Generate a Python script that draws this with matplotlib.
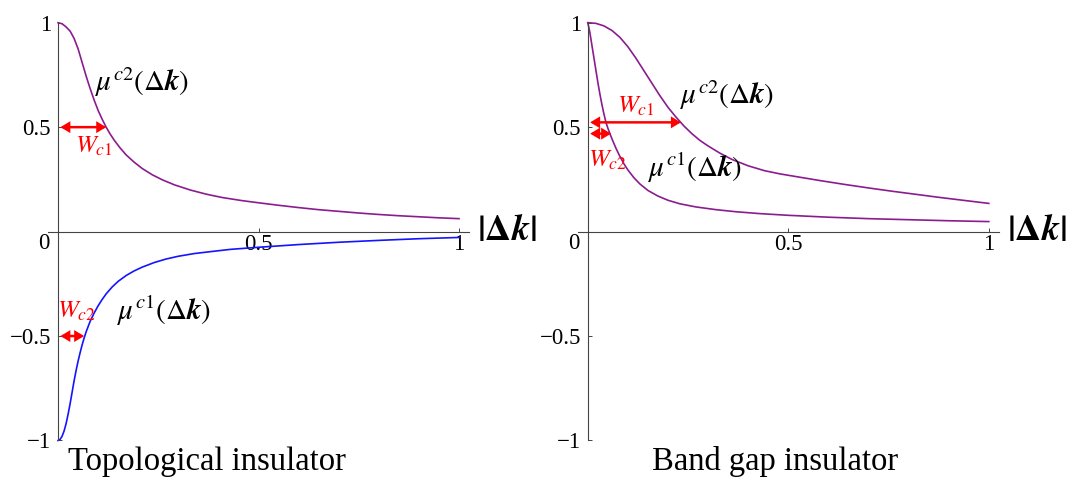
import numpy as np
import matplotlib
matplotlib.use("Agg")
import matplotlib.pyplot as plt

plt.rcParams['mathtext.fontset'] = 'stix'
plt.rcParams['font.family'] = ['Liberation Serif', 'DejaVu Serif']

# ---- topological insulator: mu^c2 (purple) and mu^c1 (blue)
topo_mu2_x = [0, 0.01, 0.02, 0.03, 0.04, 0.05, 0.06, 0.07, 0.08, 0.09, 0.10,
              0.11, 0.12, 0.13, 0.14, 0.155, 0.17, 0.19, 0.21, 0.235, 0.26,
              0.29, 0.33, 0.37, 0.41, 0.46, 0.5, 0.55, 0.6, 0.65, 0.7, 0.75,
              0.8, 0.85, 0.9, 0.95, 1.0]
topo_mu2_y = [1, 0.995, 0.98, 0.96, 0.925, 0.875, 0.81, 0.745, 0.685, 0.63, 0.58,
              0.538, 0.50, 0.467, 0.438, 0.40, 0.367, 0.332, 0.302, 0.272, 0.248,
              0.224, 0.199, 0.179, 0.163, 0.148, 0.138, 0.126, 0.115, 0.105, 0.097, 0.089,
              0.082, 0.076, 0.071, 0.066, 0.062]

topo_mu1_x = [0, 0.005, 0.01, 0.015, 0.02, 0.025, 0.03, 0.035, 0.04, 0.045, 0.05,
              0.055, 0.06, 0.065, 0.07, 0.08, 0.09, 0.1, 0.11, 0.12, 0.135, 0.15,
              0.17, 0.19, 0.21, 0.24, 0.27, 0.3, 0.34, 0.38, 0.43, 0.5, 0.6, 0.7,
              0.8, 0.9, 1.0]
topo_mu1_y = [-1, -0.995, -0.98, -0.955, -0.92, -0.875, -0.825, -0.77, -0.715, -0.665, -0.62,
              -0.58, -0.543, -0.51, -0.48, -0.43, -0.39, -0.355, -0.325, -0.298, -0.265, -0.238,
              -0.21, -0.188, -0.17, -0.148, -0.131, -0.118, -0.105, -0.096, -0.085, -0.075, -0.062, -0.051,
              -0.042, -0.034, -0.028]

# ---- band gap insulator: both curves positive
band_mu2_x = [0, 0.02, 0.04, 0.06, 0.08, 0.10, 0.12, 0.14, 0.16, 0.18, 0.20,
              0.22, 0.24, 0.26, 0.28, 0.30, 0.33, 0.36, 0.40, 0.44, 0.48, 0.53,
              0.58, 0.64, 0.7, 0.76, 0.82, 0.88, 0.94, 1.0]
band_mu2_y = [1, 0.997, 0.985, 0.963, 0.93, 0.885, 0.83, 0.77, 0.71, 0.65, 0.595,
              0.548, 0.505, 0.468, 0.436, 0.41, 0.375, 0.345, 0.315, 0.292, 0.276, 0.26,
              0.244, 0.226, 0.209, 0.193, 0.178, 0.163, 0.149, 0.135]

band_mu1_x = [0, 0.005, 0.01, 0.015, 0.02, 0.025, 0.03, 0.035, 0.04, 0.045, 0.05,
              0.055, 0.06, 0.07, 0.08, 0.09, 0.1, 0.115, 0.13, 0.15, 0.175, 0.2,
              0.23, 0.27, 0.32, 0.37, 0.43, 0.5, 0.6, 0.7, 0.8, 0.9, 1.0]
band_mu1_y = [1, 0.955, 0.895, 0.835, 0.775, 0.715, 0.66, 0.61, 0.565, 0.525, 0.495,
              0.47, 0.445, 0.40, 0.36, 0.325, 0.295, 0.258, 0.228, 0.197, 0.17, 0.15,
              0.133, 0.118, 0.105, 0.095, 0.086, 0.078, 0.069, 0.062, 0.057, 0.052, 0.048]

# widths W_c (x extent of the red arrows) and the heights they sit at
topo_wc1, topo_wc1_y = 0.12, 0.5
topo_wc2, topo_wc2_y = 0.065, -0.5
band_wc1, band_wc1_y = 0.232, 0.523
band_wc2, band_wc2_y = 0.058, 0.469

ytick_vals = [-1, -0.5, 0.5, 1]
ytick_text = ['\u22121', '\u22120.5', '0.5', '1']
xtick_vals = [0.5, 1]
xtick_text = ['0.5', '1']

purple = '#8B1C8F'
axis_col = '#444444'


def setup_axes(ax):
    ax.set_xlim(-0.025, 1.025)
    ax.set_ylim(-1, 1)
    for s in ['top', 'right']:
        ax.spines[s].set_visible(False)
    ax.spines['left'].set_position(('data', 0))
    ax.spines['bottom'].set_position(('data', 0))
    for s in ['left', 'bottom']:
        ax.spines[s].set_color(axis_col)
        ax.spines[s].set_linewidth(0.8)
    ax.set_xticks(xtick_vals)
    ax.set_xticklabels(xtick_text)
    ax.set_yticks(ytick_vals)
    ax.set_yticklabels(ytick_text)
    ax.tick_params(direction='in', length=3, width=0.7, color=axis_col,
                   labelsize=16.5, labelcolor='black')
    ax.tick_params(axis='x', pad=2)
    ax.tick_params(axis='y', pad=5)
    ax.patch.set_visible(False)
    # origin label sits just below the corner
    ax.annotate('0', xy=(0, 0), xytext=(-6, -1), textcoords='offset points',
                ha='right', va='top', fontsize=16.5)
    ax.text(1.045, 0, r'$\mathbf{|\Delta}\mathbfit{k}\mathbf{|}$', fontsize=26,
            ha='left', va='center', clip_on=False)


def width_arrow(ax, x1, y):
    ax.annotate('', xy=(x1, y), xytext=(0.006, y),
                arrowprops=dict(arrowstyle='<|-|>,head_length=0.5,head_width=0.3',
                                color='red', lw=1.8, mutation_scale=9,
                                joinstyle='miter', shrinkA=0, shrinkB=0))


fig = plt.figure(figsize=(10.67, 4.96), dpi=100)
ax1 = fig.add_axes([0.045, 0.1119, 0.3946, 0.8423])
ax2 = fig.add_axes([0.5415, 0.1119, 0.3946, 0.8423])

# left: topological insulator
setup_axes(ax1)
ax1.plot(topo_mu2_x, topo_mu2_y, color=purple, lw=1.2, clip_on=False)
ax1.plot(topo_mu1_x, topo_mu1_y, color='#1414ff', lw=1.2, clip_on=False)
width_arrow(ax1, topo_wc1, topo_wc1_y)
width_arrow(ax1, topo_wc2, topo_wc2_y)
ax1.text(0.092, 0.715, r'$\mu^{c2}(\Delta\mathbfit{k})$', fontsize=21, va='center')
ax1.text(0.042, 0.41, r'$W_{c1}$', fontsize=18, color='red', va='center')
ax1.text(-0.002, -0.383, r'$W_{c2}$', fontsize=18, color='red', va='center')
ax1.text(0.147, -0.38, r'$\mu^{c1}(\Delta\mathbfit{k})$', fontsize=21, va='center')

# right: band gap insulator
setup_axes(ax2)
ax2.plot(band_mu2_x, band_mu2_y, color=purple, lw=1.2, clip_on=False)
ax2.plot(band_mu1_x, band_mu1_y, color=purple, lw=1.2, clip_on=False)
width_arrow(ax2, band_wc1, band_wc1_y)
width_arrow(ax2, band_wc2, band_wc2_y)
ax2.text(0.23, 0.655, r'$\mu^{c2}(\Delta\mathbfit{k})$', fontsize=21, va='center')
ax2.text(0.072, 0.60, r'$W_{c1}$', fontsize=18, color='red', va='center')
ax2.text(0.0, 0.34, r'$W_{c2}$', fontsize=18, color='red', va='center')
ax2.text(0.15, 0.305, r'$\mu^{c1}(\Delta\mathbfit{k})$', fontsize=21, va='center')

fig.text(0.194, 0.069, 'Topological insulator', fontsize=23.5, ha='center', va='center')
fig.text(0.726, 0.069, 'Band gap insulator', fontsize=23.5, ha='center', va='center')

fig.savefig('out.png', dpi=100)
